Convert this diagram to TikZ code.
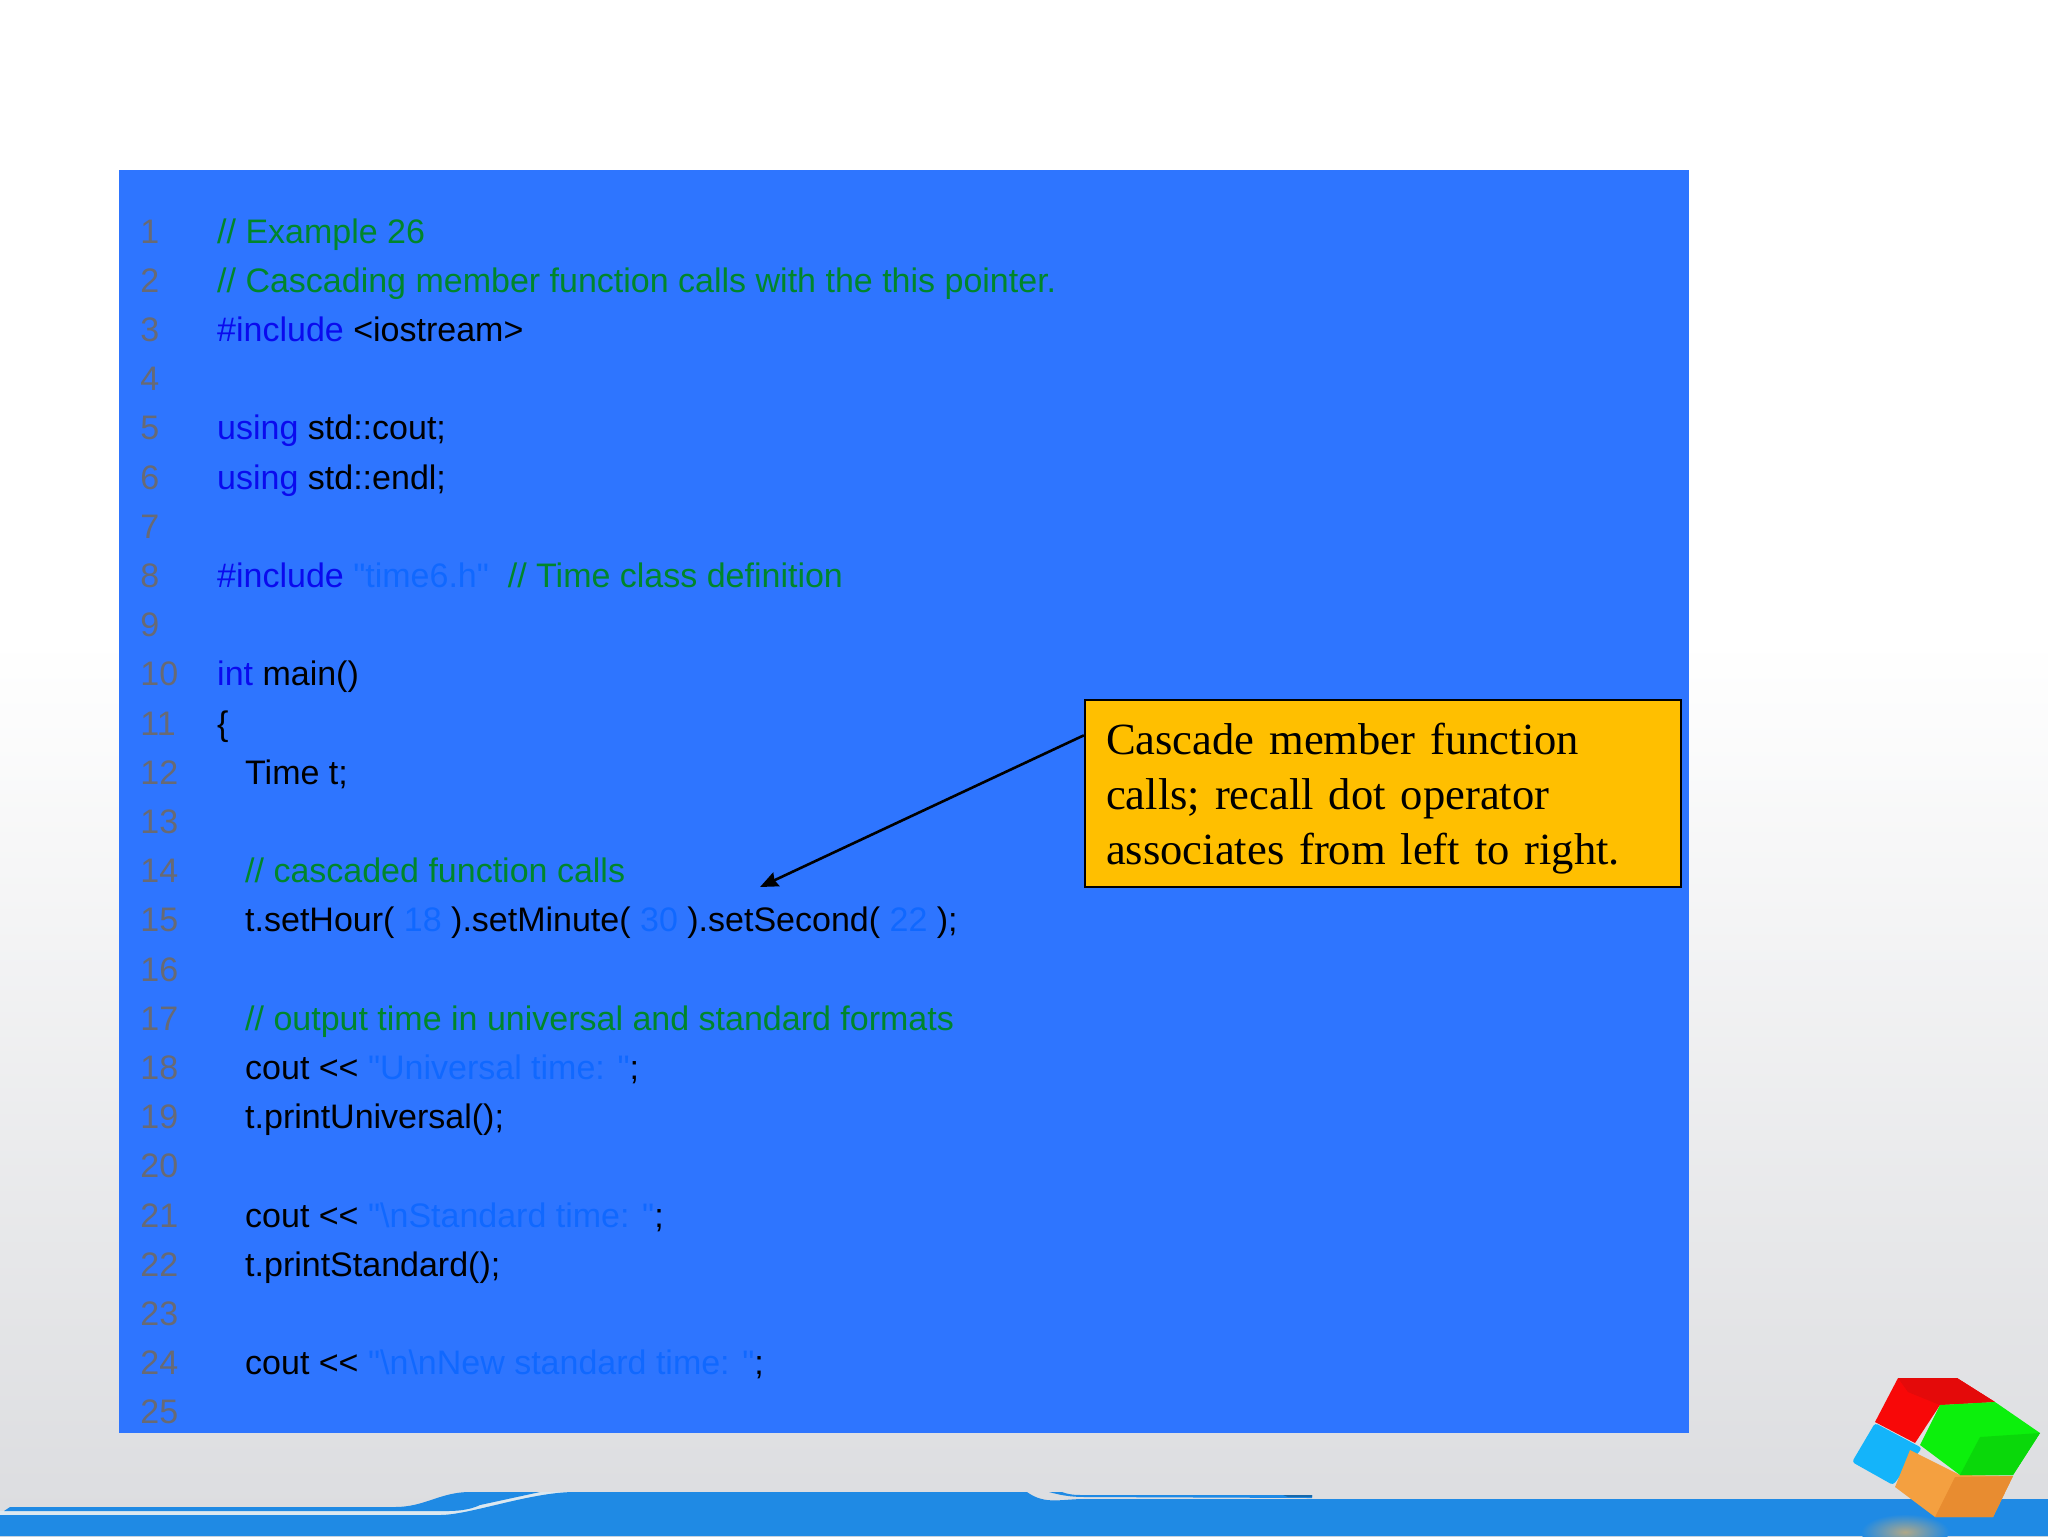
\documentclass[tikz,border=0pt]{standalone}
\usepackage{fontspec}
\setmainfont{Liberation Sans}[Ligatures=TeXOff]
\newfontfamily\calloutfont{Liberation Serif}
\usepackage{tikz}
\usetikzlibrary{arrows.meta,positioning}
\definecolor{panelblue}{HTML}{2E75FF}
\definecolor{bandblue}{HTML}{1F8AE4}
\definecolor{stripegray}{HTML}{DCE8F0}
\definecolor{floorgray}{HTML}{DBDCDF}
\definecolor{commentgreen}{HTML}{00862B}
\definecolor{keywordblue}{HTML}{0A0AEE}
\definecolor{stringblue}{HTML}{1068FF}
\definecolor{numgray}{HTML}{686A74}
\definecolor{calloutyellow}{HTML}{FFBF00}
\definecolor{cubered}{HTML}{F80808}
\definecolor{cubereddark}{HTML}{E40A0A}
\definecolor{cubegreen}{HTML}{0CF00C}
\definecolor{cubegreendark}{HTML}{0AD80A}
\definecolor{cubeblue}{HTML}{14B4FA}
\definecolor{cubeorange}{HTML}{F4A040}
\definecolor{cubeorangedark}{HTML}{E88C30}
\definecolor{glowtan}{HTML}{B0A888}
\tikzset{
	%Define style for code text
	lineno/.style={
		inner sep=0pt,
		text width=20pt,
		text height=13pt,
		text depth=0pt,
		text=numgray,
		font=\fontsize{17}{17}\selectfont},
	codeline/.style={
		inner sep=0pt,
		text height=13pt,
		text depth=0pt,
		font=\fontsize{17}{17}\selectfont,
		right=18pt of #1},
	indented/.style={
		codeline=#1,
		right=32pt of #1},
	callout/.style={
		rectangle,
		draw=black, very thick,
		fill=calloutyellow,
		inner sep=0pt,
		minimum width=298pt,
		minimum height=93.5pt,
		text width=277pt,
		text depth=54.8pt,
		align=left,
		font=\calloutfont\fontsize{22.3}{27.5}\selectfont}
}
\newcommand{\kw}[1]{{\color{keywordblue}#1}}
\newcommand{\cm}[1]{{\color{commentgreen}#1}}
\newcommand{\str}[1]{{\color{stringblue}#1}}

\begin{document}
\begin{tikzpicture}[x=0.5pt,y=-0.5pt]
	\useasboundingbox (0,0) rectangle (2048,1536);
	%background and bottom band
	\fill[white] (0,0) rectangle (2048,640);
	\shade[top color=white,bottom color=floorgray] (0,640) rectangle (2048,1536);
	\fill[stripegray] (0,1511) -- (430,1511) -- (540,1492) -- (575,1492) -- (500,1516) -- (0,1516) -- cycle;
	\fill[bandblue] (0,1515) -- (440,1515) .. controls (470,1515) and (530,1492) .. (575,1492)
		-- (1027,1492) .. controls (1045,1505) and (1060,1499) .. (1085,1499) -- (2048,1499)
		-- (2048,1536) -- (0,1536) -- cycle;
	\fill[bandblue] (4,1511) -- (10,1507) -- (395,1507) .. controls (425,1507) and (440,1492) .. (470,1492)
		-- (540,1492) -- (480,1505) .. controls (465,1512) and (450,1511) .. (430,1511) -- cycle;
	\fill[bandblue] (1049,1492) -- (1062,1492) .. controls (1070,1495) and (1075,1495) .. (1085,1495)
		-- (1312,1495) -- (1312,1498) -- (1085,1497) .. controls (1070,1497) and (1060,1495) .. cycle;
	\fill[bandblue!75!black] (1283,1495) -- (1312,1495) -- (1312,1497) -- (1288,1497) -- cycle;
	%panel
	\fill[panelblue] (119,170) rectangle (1689,1433);
	%line numbers
	\node[lineno,anchor=west] (num1) at (140,230) {1};
	\node[lineno,below=11.2pt of num1] (num2) {2};
	\node[lineno,below=11.2pt of num2] (num3) {3};
	\node[lineno,below=11.2pt of num3] (num4) {4};
	\node[lineno,below=11.2pt of num4] (num5) {5};
	\node[lineno,below=11.2pt of num5] (num6) {6};
	\node[lineno,below=11.2pt of num6] (num7) {7};
	\node[lineno,below=11.2pt of num7] (num8) {8};
	\node[lineno,below=11.2pt of num8] (num9) {9};
	\node[lineno,below=11.2pt of num9] (num10) {10};
	\node[lineno,below=11.2pt of num10] (num11) {11};
	\node[lineno,below=11.2pt of num11] (num12) {12};
	\node[lineno,below=11.2pt of num12] (num13) {13};
	\node[lineno,below=11.2pt of num13] (num14) {14};
	\node[lineno,below=11.2pt of num14] (num15) {15};
	\node[lineno,below=11.2pt of num15] (num16) {16};
	\node[lineno,below=11.2pt of num16] (num17) {17};
	\node[lineno,below=11.2pt of num17] (num18) {18};
	\node[lineno,below=11.2pt of num18] (num19) {19};
	\node[lineno,below=11.2pt of num19] (num20) {20};
	\node[lineno,below=11.2pt of num20] (num21) {21};
	\node[lineno,below=11.2pt of num21] (num22) {22};
	\node[lineno,below=11.2pt of num22] (num23) {23};
	\node[lineno,below=11.2pt of num23] (num24) {24};
	\node[lineno,below=11.2pt of num24] (num25) {25};
	%code
	\node[codeline=num1] (code1) {\cm{// Example 26}};
	\node[codeline=num2] (code2) {\cm{// Cascading member function calls with the this pointer.}};
	\node[codeline=num3] (code3) {\kw{\#include} <iostream>};
	\node[codeline=num5] (code5) {\kw{using} std::cout;};
	\node[codeline=num6] (code6) {\kw{using} std::endl;};
	\node[codeline=num8] (code8) {\kw{\#include} \str{"time6.h"}\ \ \cm{// Time class definition}};
	\node[codeline=num10] (code10) {\kw{int} main()};
	\node[codeline=num11] (code11) {\{};
	\node[indented=num12] (code12) {Time t;};
	\node[indented=num14] (code14) {\cm{// cascaded function calls}};
	\node[indented=num15] (code15) {t.setHour( \str{18} ).setMinute( \str{30} ).setSecond( \str{22} );};
	\node[indented=num17] (code17) {\cm{// output time in universal and standard formats}};
	\node[indented=num18] (code18) {cout << \str{"Universal time: "};};
	\node[indented=num19] (code19) {t.printUniversal();};
	\node[indented=num21] (code21) {cout << \str{"\textbackslash nStandard time: "};};
	\node[indented=num22] (code22) {t.printStandard();};
	\node[indented=num24] (code24) {cout << \str{"\textbackslash n\textbackslash nNew standard time: "};};
	%callout
	\node[callout] (note) at (1383,793.5) {Cascade member function\\calls; recall dot operator\\associates from left to right.};
	\coordinate (tip) at (760,887);
	\draw[-{Stealth[length=9pt,width=7.5pt,inset=1pt]},line width=1.3pt] (note.169) -- (tip);
	%cube
	\begin{scope}
		\clip (1800,1499) rectangle (2048,1536);
		\shade[inner color=glowtan,outer color=bandblue] (1905,1532) ellipse (44 and 18);
	\end{scope}
	\fill[cubeblue,rounded corners=1.5pt] (1875,1423) -- (1922,1448) -- (1893,1485) -- (1852,1462) -- cycle;
	\fill[cubered] (1898,1378) -- (1957,1378) -- (1995,1402) -- (1940,1405) -- (1915,1443) -- (1875,1422) -- cycle;
	\fill[cubereddark] (1908,1392) -- (1898,1378) -- (1957,1378) -- (1995,1402) -- (1940,1405) -- cycle;
	\fill[cubeorange] (1910,1450) -- (1960,1475) -- (2013,1476) -- (1993,1517) -- (1935,1517) -- (1895,1487) -- cycle;
	\fill[cubeorangedark] (1935,1517) -- (1955,1477) -- (2013,1476) -- (1993,1517) -- cycle;
	\fill[cubegreen] (1940,1405) -- (1995,1402) -- (2040,1433) -- (2013,1475) -- (1960,1475) -- (1920,1445) -- cycle;
	\fill[cubegreendark] (1960,1475) -- (1980,1437) -- (2040,1433) -- (2013,1475) -- cycle;
\end{tikzpicture}
\end{document}
